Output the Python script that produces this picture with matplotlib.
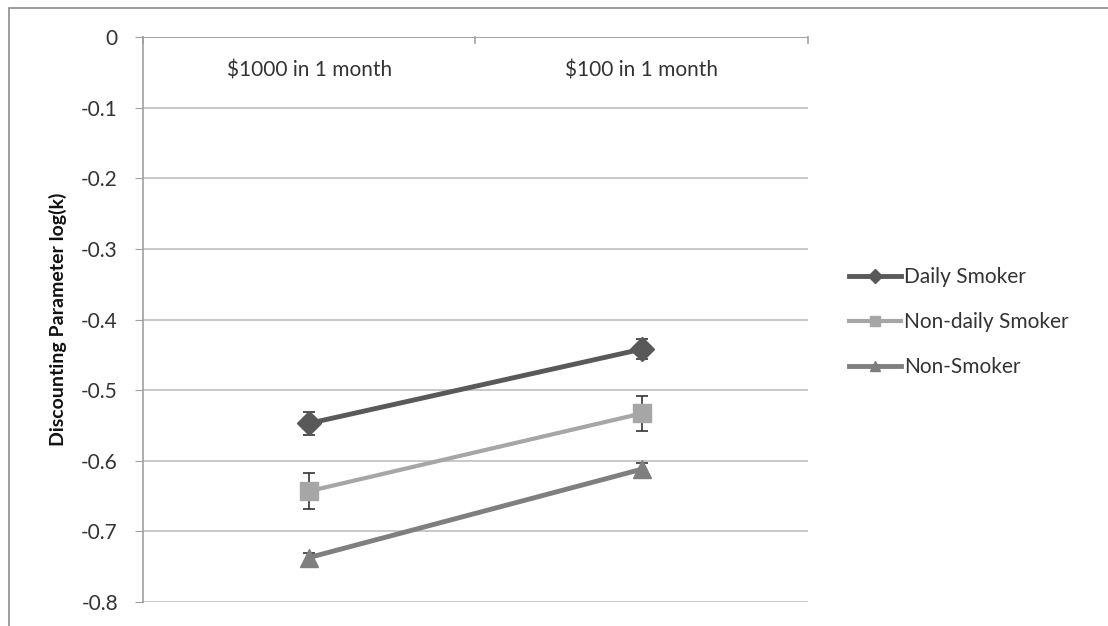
import matplotlib
matplotlib.use("Agg")
import matplotlib.pyplot as plt
from matplotlib.patches import Rectangle

categories = ["$1000 in 1 month", "$100 in 1 month"]
series_names = ["Daily Smoker", "Non-daily Smoker", "Non-Smoker"]
daily = [-0.547, -0.442]
daily_err = [0.016, 0.014]
nondaily = [-0.643, -0.533]
nondaily_err = [0.026, 0.025]
nonsmoker = [-0.737, -0.612]
nonsmoker_err = [0.006, 0.009]
yticks = [0, -0.1, -0.2, -0.3, -0.4, -0.5, -0.6, -0.7, -0.8]

plt.rcParams["font.family"] = ["Lato", "DejaVu Sans"]

fig = plt.figure(figsize=(11.08, 6.26), dpi=100)
fig.patch.set_facecolor("white")
# outer chart border
fig.add_artist(Rectangle((9 / 1108, -0.05), 1.2, 1 - 8 / 626 + 0.05,
                         transform=fig.transFigure, fill=False,
                         edgecolor="#8c8c8c", linewidth=1.2))

ax = fig.add_axes([143 / 1108, 1 - 602 / 626, (808 - 143) / 1108, (602 - 37) / 626])
ax.set_xlim(0, 2)
ax.set_ylim(-0.8, 0)
x = [0.5, 1.5]

ax.set_yticks(yticks)
ax.set_yticklabels(["0" if v == 0 else f"{v:.1f}" for v in yticks])
ax.yaxis.grid(True, color="#bfbfbf", linewidth=1.2)
ax.set_axisbelow(True)
for s in ["top", "right", "bottom"]:
    ax.spines[s].set_visible(False)
ax.spines["left"].set_color("#a0a0a0")
ax.spines["left"].set_linewidth(1.2)
ax.tick_params(axis="y", length=6, color="#a0a0a0", labelsize=15, pad=12, labelcolor="#333333")
ax.set_xticks([])

# category axis sits along y = 0
ax.axhline(0, color="#a0a0a0", linewidth=1.2, zorder=1)
for t in [0, 1, 2]:
    ax.plot([t, t], [0, -0.008], color="#a0a0a0", linewidth=1.2, clip_on=False)
for xi, c in zip(x, categories):
    ax.text(xi, -0.047, c, ha="center", va="center", fontsize=15, color="#333333")

styles = [
    (daily, daily_err, "#595959", "D", 12, 3.5),
    (nondaily, nondaily_err, "#a6a6a6", "s", 13, 3.0),
    (nonsmoker, nonsmoker_err, "#7f7f7f", "^", 13, 3.5),
]
handles = []
for name, (vals, err, col, mk, ms, lw) in zip(series_names, styles):
    ax.errorbar(x, vals, yerr=err, fmt="none", ecolor="#333333",
                elinewidth=1.2, capsize=4, capthick=1.2, zorder=3)
    h, = ax.plot(x, vals, color=col, linewidth=lw, marker=mk, markersize=ms,
                 markeredgecolor=col, markerfacecolor=col, zorder=4, label=name)
    handles.append(h)

ax.set_ylabel("Discounting Parameter log(k)", fontsize=14, fontweight="bold",
              labelpad=10, color="#111111")

fig.legend(handles, series_names, loc="center left",
           bbox_to_anchor=(830 / 1108, 1 - 322 / 626), frameon=False,
           fontsize=15, handlelength=2.5, handletextpad=0.15, labelspacing=1.2,
           markerscale=0.6, labelcolor="#333333")

fig.savefig("out.png", dpi=100)
